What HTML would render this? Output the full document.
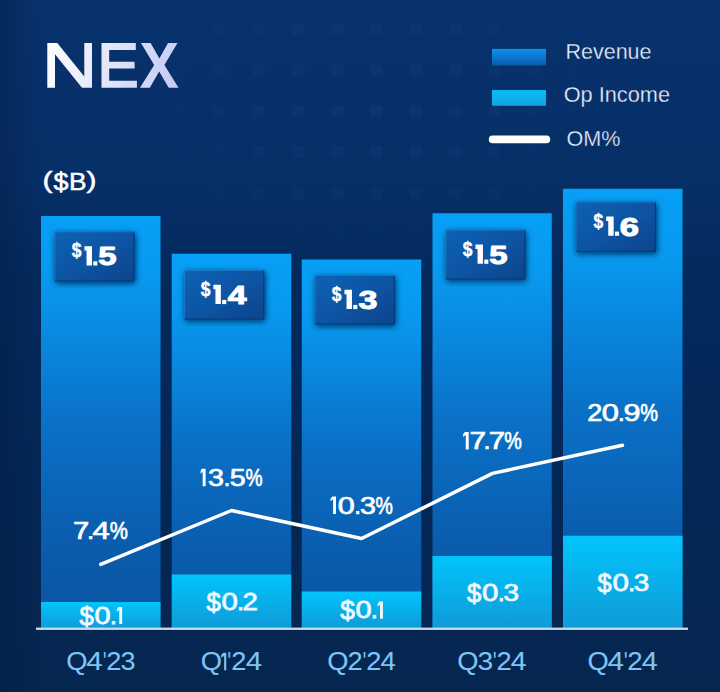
<!DOCTYPE html>
<html><head><meta charset="utf-8"><title>NEX</title>
<style>
html,body{margin:0;padding:0;background:#04254f;}
body{width:720px;height:692px;overflow:hidden;font-family:"Liberation Sans",sans-serif;}
svg{display:block}
text{font-family:"Liberation Sans",sans-serif;}
</style></head><body>
<svg width="720" height="692" viewBox="0 0 720 692">
<defs>
<linearGradient id="bg" x1="0" y1="0" x2="0" y2="1">
<stop offset="0" stop-color="#08326d"/><stop offset="0.27" stop-color="#062f67"/><stop offset="0.4" stop-color="#032a5d"/><stop offset="0.6" stop-color="#032858"/><stop offset="1" stop-color="#05264f"/>
</linearGradient>
<linearGradient id="vl" x1="0" y1="0" x2="1" y2="0"><stop offset="0" stop-color="#02193c" stop-opacity="0.35"/><stop offset="1" stop-color="#02193c" stop-opacity="0"/></linearGradient>
<pattern id="sq" x="213.5" y="23" width="39.3" height="41" patternUnits="userSpaceOnUse">
<rect x="0" y="0" width="12" height="12" fill="#5f9be0" opacity="0.055"/>
</pattern>
<radialGradient id="sqfade" gradientUnits="userSpaceOnUse" cx="370" cy="100" r="230" gradientTransform="translate(370 100) scale(1 0.7) translate(-370 -100)">
<stop offset="0" stop-color="#fff"/><stop offset="0.55" stop-color="#bbb"/><stop offset="1" stop-color="#000"/>
</radialGradient>
<mask id="sqm"><rect width="720" height="692" fill="url(#sqfade)"/></mask>
<linearGradient id="rev" x1="0" y1="0" x2="0" y2="1">
<stop offset="0" stop-color="#06a0f6"/><stop offset="0.15" stop-color="#0899ef"/><stop offset="0.5" stop-color="#0a71c7"/><stop offset="0.8" stop-color="#0a5cad"/><stop offset="1" stop-color="#0a55a1"/>
</linearGradient>
<linearGradient id="op" x1="0" y1="0" x2="0" y2="1">
<stop offset="0" stop-color="#02c4fb"/><stop offset="1" stop-color="#0f9bd9"/>
</linearGradient>
<linearGradient id="box" x1="0" y1="0" x2="1" y2="1">
<stop offset="0" stop-color="#0b61b4"/><stop offset="0.5" stop-color="#0a55a4"/><stop offset="1" stop-color="#07448b"/>
</linearGradient>
<linearGradient id="lrev" x1="0" y1="0" x2="0" y2="1">
<stop offset="0" stop-color="#0a92ec"/><stop offset="1" stop-color="#0a5cad"/>
</linearGradient>
<linearGradient id="lop" x1="0" y1="0" x2="0" y2="1">
<stop offset="0" stop-color="#06c1f7"/><stop offset="1" stop-color="#169fe0"/>
</linearGradient>
<linearGradient id="ttl" gradientUnits="userSpaceOnUse" x1="47" y1="43" x2="180" y2="88">
<stop offset="0" stop-color="#ffffff"/><stop offset="1" stop-color="#c3c8f3"/>
</linearGradient>
<filter id="sh" x="-20%" y="-30%" width="140%" height="160%">
<feGaussianBlur in="SourceAlpha" stdDeviation="3.4"/><feOffset dx="0.6" dy="1.6"/>
<feColorMatrix type="matrix" values="0 0 0 0 0.0  0 0 0 0 0.1  0 0 0 0 0.32  0 0 0 1.7 0"/>
<feMerge><feMergeNode/><feMergeNode in="SourceGraphic"/></feMerge>
</filter>
</defs>
<rect width="720" height="692" fill="url(#bg)"/>
<rect width="720" height="692" fill="url(#sq)" mask="url(#sqm)"/>
<rect width="40" height="692" fill="url(#vl)"/>

<!-- title NEX -->
<g fill="url(#ttl)">
<polygon points="47.3,87.7 47.3,43 57.3,43 84.3,76.5 84.3,43 92,43 92,87.7 82,87.7 55,54.2 55,87.7"/>
<polygon points="101.5,43 135.8,43 135.8,50 109.2,50 109.2,61.7 134.6,61.7 134.6,68.6 109.2,68.6 109.2,80.7 136.9,80.7 136.9,87.7 101.5,87.7"/>
<polygon points="141,43 150.6,43 159.4,58.6 168,43 177.5,43 164.4,65 178.5,87.7 168.7,87.7 159.2,71.4 149.8,87.7 140,87.7 154.2,65"/>
</g>

<!-- legend -->
<rect x="492" y="48.9" width="54" height="16.5" fill="url(#lrev)"/>
<rect x="492" y="90.1" width="54" height="15.7" fill="url(#lop)"/>
<line x1="492.6" y1="139.4" x2="546.4" y2="139.4" stroke="#fff" stroke-width="7.6" stroke-linecap="round"/>
<g fill="#eaeefd" font-size="22.3" stroke="#08306a" stroke-width="0.3">
<text x="565.5" y="59.2" textLength="86" lengthAdjust="spacingAndGlyphs">Revenue</text>
<text x="563.7" y="101.6" textLength="106.3" lengthAdjust="spacingAndGlyphs">Op Income</text>
<text x="566.5" y="145.6" textLength="54" lengthAdjust="spacingAndGlyphs">OM%</text>
</g>

<!-- ($B) -->
<g fill="#fff" stroke="#fff" stroke-width="0.5" font-size="23.3">
<text x="42.5" y="188.3" font-size="24" textLength="10" lengthAdjust="spacingAndGlyphs">(</text>
<text x="53.6" y="190" textLength="15" lengthAdjust="spacingAndGlyphs">$</text>
<rect x="59.9" y="171" width="2.2" height="21.7" stroke="none"/>
<text x="69" y="190" textLength="17.5" lengthAdjust="spacingAndGlyphs">B</text>
<text x="86.5" y="188.3" font-size="24" textLength="10" lengthAdjust="spacingAndGlyphs">)</text>
</g>

<!-- revenue bars -->
<g fill="url(#rev)">
<rect x="41" y="216" width="119.5" height="412"/>
<rect x="171.75" y="253.75" width="119.5" height="374.25"/>
<rect x="301.75" y="259.5" width="119.5" height="368.5"/>
<rect x="432.5" y="213.25" width="119.25" height="414.75"/>
<rect x="563" y="188.75" width="119.5" height="439.25"/>
</g>
<!-- op income -->
<g fill="url(#op)">
<rect x="41" y="602" width="119.5" height="26"/>
<rect x="171.75" y="574.5" width="119.5" height="53.5"/>
<rect x="301.75" y="591.5" width="119.5" height="36.5"/>
<rect x="432.5" y="556" width="119.25" height="72"/>
<rect x="563" y="535.75" width="119.5" height="92.25"/>
</g>
<!-- baseline -->
<rect x="36" y="627.6" width="652" height="2.3" fill="#c9dcf2"/>

<!-- value boxes -->
<g transform="translate(54.4 231.4)">
<rect width="80" height="50" fill="url(#box)" filter="url(#sh)"/>
<path d="M79.5 0.5V49.5H0.5" fill="none" stroke="#06336e" stroke-width="1" opacity="0.75"/>
<path d="M0.4 49V0.4H79" fill="none" stroke="#3b9dea" stroke-width="0.8" opacity="0.55"/>
<text transform="translate(17.45 25.9) scale(0.86 1)" font-size="20.3" font-weight="bold" fill="#fff" stroke="#fff" stroke-width="0.45">$</text>
<polygon fill="#fff" points="30.05,14.80 37.55,14.80 37.55,34.1 32.15,34.1 32.15,19.20 30.05,19.20"/>
<rect fill="#fff" x="38.85" y="29.900000000000002" width="4.1" height="4.2"/>
<text transform="translate(43.85 33.800000000000004) scale(1.246 1)" font-size="26.4" font-weight="bold" fill="#fff" stroke="#fff" stroke-width="1.0" stroke-linejoin="round">5</text>
</g>
<g transform="translate(184.2 270)">
<rect width="80" height="49.5" fill="url(#box)" filter="url(#sh)"/>
<path d="M79.5 0.5V49.0H0.5" fill="none" stroke="#06336e" stroke-width="1" opacity="0.75"/>
<path d="M0.4 48.5V0.4H79" fill="none" stroke="#3b9dea" stroke-width="0.8" opacity="0.55"/>
<text transform="translate(16.55 25.9) scale(0.86 1)" font-size="20.3" font-weight="bold" fill="#fff" stroke="#fff" stroke-width="0.45">$</text>
<polygon fill="#fff" points="29.15,14.80 36.65,14.80 36.65,34.1 31.25,34.1 31.25,19.20 29.15,19.20"/>
<rect fill="#fff" x="37.95" y="29.900000000000002" width="4.1" height="4.2"/>
<text transform="translate(43.48 33.800000000000004) scale(1.280 1)" font-size="26.4" font-weight="bold" fill="#fff" stroke="#fff" stroke-width="1.0" stroke-linejoin="round">4</text>
</g>
<g transform="translate(314.7 275)">
<rect width="80" height="49.4" fill="url(#box)" filter="url(#sh)"/>
<path d="M79.5 0.5V48.9H0.5" fill="none" stroke="#06336e" stroke-width="1" opacity="0.75"/>
<path d="M0.4 48.4V0.4H79" fill="none" stroke="#3b9dea" stroke-width="0.8" opacity="0.55"/>
<text transform="translate(17.15 25.9) scale(0.86 1)" font-size="20.3" font-weight="bold" fill="#fff" stroke="#fff" stroke-width="0.45">$</text>
<polygon fill="#fff" points="29.75,14.80 37.25,14.80 37.25,34.1 31.85,34.1 31.85,19.20 29.75,19.20"/>
<rect fill="#fff" x="38.55" y="29.900000000000002" width="4.1" height="4.2"/>
<text transform="translate(43.81 33.800000000000004) scale(1.289 1)" font-size="26.4" font-weight="bold" fill="#fff" stroke="#fff" stroke-width="1.0" stroke-linejoin="round">3</text>
</g>
<g transform="translate(445.4 229.7)">
<rect width="79.8" height="49.8" fill="url(#box)" filter="url(#sh)"/>
<path d="M79.3 0.5V49.3H0.5" fill="none" stroke="#06336e" stroke-width="1" opacity="0.75"/>
<path d="M0.4 48.8V0.4H78.8" fill="none" stroke="#3b9dea" stroke-width="0.8" opacity="0.55"/>
<text transform="translate(17.45 25.9) scale(0.86 1)" font-size="20.3" font-weight="bold" fill="#fff" stroke="#fff" stroke-width="0.45">$</text>
<polygon fill="#fff" points="30.05,14.80 37.55,14.80 37.55,34.1 32.15,34.1 32.15,19.20 30.05,19.20"/>
<rect fill="#fff" x="38.85" y="29.900000000000002" width="4.1" height="4.2"/>
<text transform="translate(43.85 33.800000000000004) scale(1.246 1)" font-size="26.4" font-weight="bold" fill="#fff" stroke="#fff" stroke-width="1.0" stroke-linejoin="round">5</text>
</g>
<g transform="translate(575.6 201.7)">
<rect width="80.3" height="50.2" fill="url(#box)" filter="url(#sh)"/>
<path d="M79.8 0.5V49.7H0.5" fill="none" stroke="#06336e" stroke-width="1" opacity="0.75"/>
<path d="M0.4 49.2V0.4H79.3" fill="none" stroke="#3b9dea" stroke-width="0.8" opacity="0.55"/>
<text transform="translate(17.95 25.9) scale(0.86 1)" font-size="20.3" font-weight="bold" fill="#fff" stroke="#fff" stroke-width="0.45">$</text>
<polygon fill="#fff" points="30.55,14.80 38.05,14.80 38.05,34.1 32.65,34.1 32.65,19.20 30.55,19.20"/>
<rect fill="#fff" x="39.35" y="29.900000000000002" width="4.1" height="4.2"/>
<text transform="translate(44.13 33.800000000000004) scale(1.309 1)" font-size="26.4" font-weight="bold" fill="#fff" stroke="#fff" stroke-width="1.0" stroke-linejoin="round">6</text>
</g>

<!-- OM line -->
<polyline points="100.7,564.4 231.5,510.5 361.6,538.5 492.5,473.4 622.5,445.3" fill="none" stroke="#fff" stroke-width="3.5" stroke-linecap="round" stroke-linejoin="round"/>

<!-- pct labels -->
<g fill="#fff" stroke="#fff">
<text transform="translate(72.92 539.15) scale(1.198 1.0)" font-size="24.36" stroke-width="0.7">7</text>
<text transform="translate(87.01 539.15) scale(1.060 1.0)" font-size="24.36" stroke-width="0.7">.</text>
<text transform="translate(92.48 539.15) scale(1.280 1.0)" font-size="24.36" stroke-width="0.7">4</text>
<text transform="translate(109.82 539.15) scale(0.837 1.0)" font-size="24.36" stroke-width="0.7">%</text>
<polygon stroke="none" points="201.80,468.80 205.60,468.80 205.60,486.30 202.70,486.30 202.70,471.70 200.60,473.70 200.60,471.10"/>
<text transform="translate(208.07 485.95) scale(1.176 1.0)" font-size="24.36" stroke-width="0.7">3</text>
<text transform="translate(223.80 485.95) scale(0.961 1.0)" font-size="24.36" stroke-width="0.7">.</text>
<text transform="translate(229.86 485.95) scale(1.176 1.0)" font-size="24.36" stroke-width="0.7">5</text>
<text transform="translate(245.59 485.95) scale(0.788 1.0)" font-size="24.36" stroke-width="0.7">%</text>
<polygon stroke="none" points="332.20,496.40 336.00,496.40 336.00,514.00 333.10,514.00 333.10,499.30 330.60,501.30 330.60,498.70"/>
<text transform="translate(337.74 513.65) scale(1.249 1.0)" font-size="24.50" stroke-width="0.7">0</text>
<text transform="translate(354.13 513.65) scale(0.989 1.0)" font-size="24.50" stroke-width="0.7">.</text>
<text transform="translate(359.92 513.65) scale(1.169 1.0)" font-size="24.50" stroke-width="0.7">3</text>
<text transform="translate(375.58 513.65) scale(0.796 1.0)" font-size="24.50" stroke-width="0.7">%</text>
<polygon stroke="none" points="464.90,432.00 468.70,432.00 468.70,449.50 465.80,449.50 465.80,434.90 463.10,436.90 463.10,434.30"/>
<text transform="translate(469.50 449.15) scale(1.223 1.0)" font-size="24.36" stroke-width="0.7">7</text>
<text transform="translate(483.48 449.15) scale(1.027 1.0)" font-size="24.36" stroke-width="0.7">.</text>
<text transform="translate(488.66 449.15) scale(1.211 1.0)" font-size="24.36" stroke-width="0.7">7</text>
<text transform="translate(504.33 449.15) scale(0.812 1.0)" font-size="24.36" stroke-width="0.7">%</text>
<text transform="translate(587.13 420.75) scale(1.104 1.0)" font-size="24.50" stroke-width="0.7">2</text>
<text transform="translate(601.74 420.75) scale(1.257 1.0)" font-size="24.50" stroke-width="0.7">0</text>
<text transform="translate(617.88 420.75) scale(0.989 1.0)" font-size="24.50" stroke-width="0.7">.</text>
<text transform="translate(623.40 420.75) scale(1.248 1.0)" font-size="24.50" stroke-width="0.7">9</text>
<text transform="translate(640.17 420.75) scale(0.815 1.0)" font-size="24.50" stroke-width="0.7">%</text>
</g>

<!-- op labels -->
<g fill="#f0f9ff" stroke="#f0f9ff">
<text transform="translate(79.53 624.55) scale(1.077 1.09)" font-size="23.85" stroke-width="0.75">$</text>
<text transform="translate(94.57 623.73) scale(1.214 1.0)" font-size="23.85" stroke-width="0.75">0</text>
<text transform="translate(110.05 623.73) scale(1.026 1.0)" font-size="23.85" stroke-width="0.75">.</text>
<polygon stroke="none" points="118.35,606.90 122.15,606.90 122.15,624.10 119.25,624.10 119.25,609.80 116.90,611.80 116.90,609.20"/>
<text transform="translate(206.38 610.85) scale(1.077 1.09)" font-size="23.85" stroke-width="0.75">$</text>
<text transform="translate(221.56 610.02) scale(1.234 1.0)" font-size="23.85" stroke-width="0.75">0</text>
<text transform="translate(237.06 610.02) scale(1.076 1.0)" font-size="23.85" stroke-width="0.75">.</text>
<text transform="translate(242.55 610.02) scale(1.153 1.0)" font-size="23.85" stroke-width="0.75">2</text>
<text transform="translate(340.13 619.25) scale(1.103 1.09)" font-size="23.85" stroke-width="0.75">$</text>
<text transform="translate(355.57 618.42) scale(1.214 1.0)" font-size="23.85" stroke-width="0.75">0</text>
<text transform="translate(370.81 618.42) scale(1.076 1.0)" font-size="23.85" stroke-width="0.75">.</text>
<polygon stroke="none" points="379.10,601.60 382.90,601.60 382.90,618.80 380.00,618.80 380.00,604.50 377.50,606.50 377.50,603.90"/>
<text transform="translate(467.03 601.75) scale(1.077 1.09)" font-size="23.85" stroke-width="0.75">$</text>
<text transform="translate(482.06 600.92) scale(1.234 1.0)" font-size="23.85" stroke-width="0.75">0</text>
<text transform="translate(497.96 600.92) scale(0.993 1.0)" font-size="23.85" stroke-width="0.75">.</text>
<text transform="translate(503.38 600.92) scale(1.169 1.0)" font-size="23.85" stroke-width="0.75">3</text>
<text transform="translate(597.38 592.05) scale(1.065 1.09)" font-size="23.85" stroke-width="0.75">$</text>
<text transform="translate(612.41 591.23) scale(1.234 1.0)" font-size="23.85" stroke-width="0.75">0</text>
<text transform="translate(628.15 591.23) scale(1.026 1.0)" font-size="23.85" stroke-width="0.75">.</text>
<text transform="translate(633.78 591.23) scale(1.169 1.0)" font-size="23.85" stroke-width="0.75">3</text>
</g>

<!-- quarter labels -->
<g fill="#7fc4f6" stroke="#7fc4f6">
<text transform="translate(66.26 670.15) scale(1.089 1.0)" font-size="25.07" stroke-width="0.1">Q</text>
<text transform="translate(86.28 670.15) scale(1.178 1.0)" font-size="25.07" stroke-width="0.1">4</text>
<text transform="translate(103.12 670.15) scale(0.723 1.0)" font-size="25.07" stroke-width="0.1">&#39;</text>
<text transform="translate(106.19 670.15) scale(1.085 1.0)" font-size="25.07" stroke-width="0.1">2</text>
<text transform="translate(120.53 670.15) scale(1.076 1.0)" font-size="25.07" stroke-width="0.1">3</text>
<text transform="translate(200.66 670.15) scale(1.089 1.0)" font-size="25.07" stroke-width="0.1">Q</text>
<polygon stroke="none" points="223.25,652.80 226.25,652.80 226.25,670.20 224.15,670.20 224.15,655.70 221.25,657.70 221.25,655.10"/>
<text transform="translate(227.62 670.15) scale(0.723 1.0)" font-size="25.07" stroke-width="0.1">&#39;</text>
<text transform="translate(231.19 670.15) scale(1.085 1.0)" font-size="25.07" stroke-width="0.1">2</text>
<text transform="translate(245.63 670.15) scale(1.178 1.0)" font-size="25.07" stroke-width="0.1">4</text>
<text transform="translate(327.26 670.15) scale(1.089 1.0)" font-size="25.07" stroke-width="0.1">Q</text>
<text transform="translate(347.44 670.15) scale(1.085 1.0)" font-size="25.07" stroke-width="0.1">2</text>
<text transform="translate(362.87 670.15) scale(0.723 1.0)" font-size="25.07" stroke-width="0.1">&#39;</text>
<text transform="translate(366.19 670.15) scale(1.085 1.0)" font-size="25.07" stroke-width="0.1">2</text>
<text transform="translate(380.42 670.15) scale(1.099 1.0)" font-size="25.07" stroke-width="0.1">4</text>
<text transform="translate(457.26 670.15) scale(1.089 1.0)" font-size="25.07" stroke-width="0.1">Q</text>
<text transform="translate(477.49 670.15) scale(1.118 1.0)" font-size="25.07" stroke-width="0.1">3</text>
<text transform="translate(493.12 670.15) scale(0.723 1.0)" font-size="25.07" stroke-width="0.1">&#39;</text>
<text transform="translate(496.44 670.15) scale(1.085 1.0)" font-size="25.07" stroke-width="0.1">2</text>
<text transform="translate(510.66 670.15) scale(1.131 1.0)" font-size="25.07" stroke-width="0.1">4</text>
<text transform="translate(587.51 670.15) scale(1.089 1.0)" font-size="25.07" stroke-width="0.1">Q</text>
<text transform="translate(607.48 670.15) scale(1.178 1.0)" font-size="25.07" stroke-width="0.1">4</text>
<text transform="translate(624.12 670.15) scale(0.723 1.0)" font-size="25.07" stroke-width="0.1">&#39;</text>
<text transform="translate(627.16 670.15) scale(1.107 1.0)" font-size="25.07" stroke-width="0.1">2</text>
<text transform="translate(641.65 670.15) scale(1.147 1.0)" font-size="25.07" stroke-width="0.1">4</text>
</g>
</svg>
</body></html>
